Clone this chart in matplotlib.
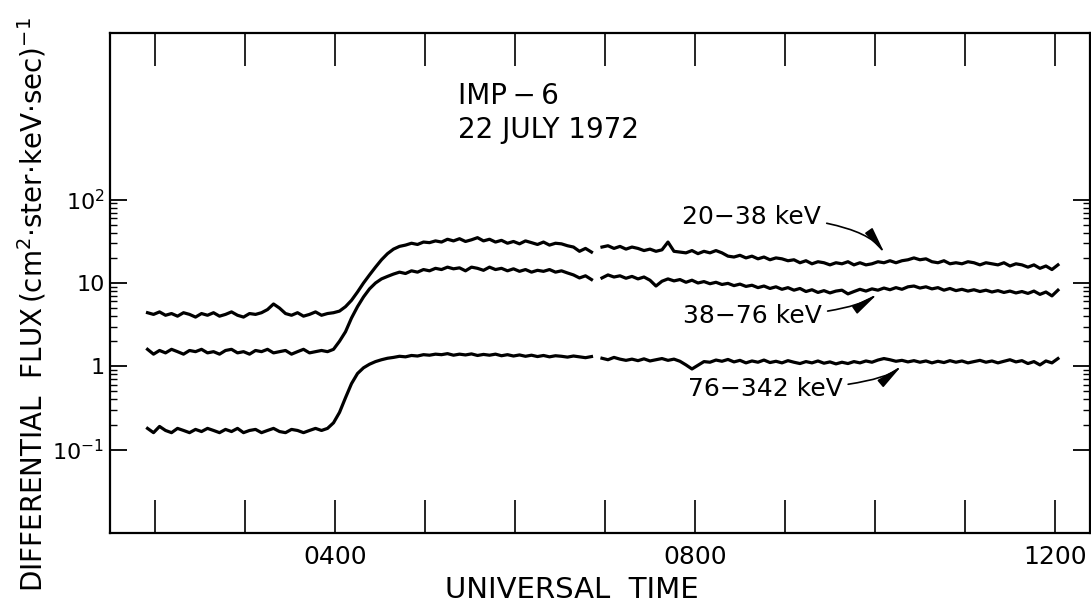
import numpy as np
import matplotlib
matplotlib.use("Agg")
import matplotlib.pyplot as plt

# time grid (hours UT), 4-minute samples, two passes separated by a data gap
step = 4.0 / 60.0
t_start_1 = 1.917
t_start_2 = 6.967

# 20-38 keV channel
flux_20_38_a = [
    4.4, 4.2, 4.5, 4.1, 4.3, 4.0, 4.4, 4.2, 3.9,
    4.3, 4.1, 4.4, 4.0, 4.2, 4.5, 4.1, 3.9, 4.3, 4.2,
    4.4, 4.8, 5.6, 5.0, 4.3, 4.1, 4.4, 4.0, 4.2, 4.5,
    4.1, 4.3, 4.4, 4.6, 5.2, 6.2, 7.8, 10.0, 12.5, 15.5,
    19.0, 22.5, 25.5, 27.5, 28.5, 30.0, 29.0, 31.0, 30.5, 32.0,
    31.0, 33.5, 32.0, 34.0, 31.5, 33.0, 35.0, 32.0, 33.5, 31.0,
    32.5, 30.0, 31.5, 29.5, 32.0, 30.5, 29.0, 31.0, 28.5, 30.0,
    29.5, 28.0, 27.0, 24.0, 26.0, 23.5,
]
flux_20_38_b = [
    27.0, 28.0, 26.0, 27.5, 25.5, 27.0, 26.0, 24.5, 25.5, 24.0,
    25.0, 31.0, 24.0, 23.5, 23.0, 24.5, 22.5, 24.0, 23.0, 24.5,
    23.0, 21.0, 20.5, 21.5, 20.0, 21.0, 19.5, 20.5, 19.0, 20.0,
    19.5, 18.5, 19.0, 17.5, 18.5, 17.0, 18.0, 17.5, 16.5, 17.5,
    17.0, 18.0, 16.5, 17.5, 16.5, 17.0, 18.0, 17.5, 18.5, 17.5,
    18.5, 19.0, 20.0, 19.0, 19.5, 18.0, 17.5, 18.5, 17.0, 17.5,
    17.0, 18.0, 17.5, 16.5, 17.5, 17.0, 16.5, 17.5, 16.0, 17.0,
    16.5, 15.5, 16.5, 15.0, 16.0, 14.5, 16.5,
]

# 38-76 keV channel
flux_38_76_a = [
    1.6, 1.4, 1.55, 1.45, 1.6, 1.5, 1.4, 1.55, 1.5,
    1.6, 1.45, 1.5, 1.4, 1.55, 1.6, 1.45, 1.5, 1.4, 1.55,
    1.5, 1.6, 1.45, 1.5, 1.55, 1.4, 1.5, 1.6, 1.45, 1.5,
    1.55, 1.5, 1.6, 2.0, 2.6, 3.8, 5.2, 6.8, 8.5, 10.0,
    11.2, 12.0, 12.8, 13.5, 13.0, 14.0, 13.5, 14.5, 14.0, 15.0,
    14.5, 15.5, 14.8, 15.2, 14.0, 15.5, 15.0, 14.2, 15.5, 14.5,
    15.0, 14.0, 14.8, 13.8, 14.5, 13.5, 14.2, 13.8, 14.5, 13.5,
    14.0, 13.2, 12.5, 11.5, 12.2, 11.0,
]
flux_38_76_b = [
    11.5, 12.5, 11.8, 12.2, 11.4, 12.0, 11.2, 11.8, 10.8, 9.2,
    10.5, 11.2, 10.6, 11.0, 10.2, 10.8, 10.0, 10.4, 9.8, 10.2,
    9.6, 9.9, 9.3, 9.7, 9.1, 9.4, 8.8, 9.2, 8.6, 9.0,
    8.4, 8.8, 8.2, 8.6, 7.9, 8.3, 7.7, 8.1, 7.6, 8.0,
    8.2, 7.4, 7.9, 8.4, 8.0, 8.5, 8.2, 8.7, 8.3, 8.8,
    8.4, 9.0, 9.2, 8.7, 9.0, 8.5, 8.8, 8.2, 8.6, 8.1,
    8.4, 8.0, 8.3, 7.9, 8.2, 7.8, 8.1, 7.7, 8.0, 7.6,
    7.9, 7.5, 8.0, 7.3, 7.8, 7.0, 8.2,
]

# 76-342 keV channel
flux_76_342_a = [
    0.18, 0.16, 0.19, 0.17, 0.16, 0.18, 0.17, 0.16, 0.175,
    0.165, 0.18, 0.17, 0.16, 0.175, 0.165, 0.18, 0.16, 0.17, 0.175,
    0.16, 0.17, 0.18, 0.165, 0.16, 0.175, 0.17, 0.16, 0.17, 0.18,
    0.17, 0.18, 0.21, 0.28, 0.42, 0.62, 0.82, 0.96, 1.06, 1.14,
    1.2, 1.25, 1.28, 1.32, 1.3, 1.35, 1.33, 1.38, 1.36, 1.4,
    1.38, 1.42, 1.36, 1.4, 1.37, 1.41, 1.35, 1.39, 1.36, 1.4,
    1.34, 1.38, 1.33, 1.37, 1.32, 1.36, 1.31, 1.35, 1.3, 1.34,
    1.32, 1.29, 1.33, 1.3, 1.27, 1.31,
]
flux_76_342_b = [
    1.25, 1.2, 1.28, 1.22, 1.18, 1.22, 1.17, 1.23, 1.16, 1.2,
    1.24, 1.18, 1.22, 1.15, 1.04, 0.93, 1.03, 1.14, 1.12, 1.19,
    1.15, 1.21, 1.13, 1.18, 1.1, 1.16, 1.12, 1.19, 1.11, 1.15,
    1.1, 1.17, 1.12, 1.08, 1.14, 1.1, 1.16, 1.09, 1.13, 1.07,
    1.12, 1.08, 1.14, 1.1, 1.16, 1.12, 1.19, 1.24, 1.2, 1.15,
    1.18, 1.13, 1.17, 1.12, 1.16, 1.1, 1.15, 1.11, 1.17, 1.12,
    1.16, 1.1, 1.14, 1.18, 1.12, 1.16, 1.1, 1.15, 1.2, 1.13,
    1.17, 1.08, 1.14, 1.04, 1.16, 1.1, 1.24,
]

channels = [
    ("20\u221238 keV", flux_20_38_a, flux_20_38_b),
    ("38\u221276 keV", flux_38_76_a, flux_38_76_b),
    ("76\u2212342 keV", flux_76_342_a, flux_76_342_b),
]

# where the channel labels sit and where their arrows land (hours, flux)
label_xy = [(7.86, 62.0), (7.87, 4.0), (7.92, 0.53)]
arrow_xy = [(10.11, 22.5), (10.03, 7.4), (10.30, 1.02)]
arrow_angle = [-55, 35, 40]

hour_ticks = np.arange(2, 13)
hour_labels = {4: "0400", 8: "0800", 12: "1200"}

plt.rcParams["font.family"] = "DejaVu Sans"
plt.rcParams["mathtext.default"] = "regular"

fig = plt.figure(figsize=(10.91, 6.06), dpi=100)
ax = fig.add_axes([110 / 1091, 1 - 533 / 606, 980 / 1091, 500 / 606])

for name, seg_a, seg_b in channels:
    t_a = t_start_1 + step * np.arange(len(seg_a))
    t_b = t_start_2 + step * np.arange(len(seg_b))
    ax.plot(t_a, seg_a, color="black", lw=2.3, solid_joinstyle="round")
    ax.plot(t_b, seg_b, color="black", lw=2.3, solid_joinstyle="round")

ax.set_yscale("log")
ax.set_ylim(1e-2, 1e4)
ax.set_xlim(1.5, 12.39)

# y ticks only over the 0.1 - 100 decades, on both sides
ax.set_yticks([0.1, 1, 10, 100])
ax.set_yticklabels([r"$10^{-1}$", "1", "10", r"$10^{2}$"])
minor = [k * 10.0 ** e for e in (-1, 0, 1) for k in range(2, 10)]
ax.set_yticks(minor, minor=True)
ax.yaxis.set_minor_formatter(matplotlib.ticker.NullFormatter())
ax.tick_params(axis="y", which="major", direction="in", length=12, width=1.3,
               labelsize=16, pad=4, left=True, right=True)
ax.tick_params(axis="y", which="minor", direction="in", length=5, width=1.0,
               left=True, right=True)

ax.set_xticks(hour_ticks)
ax.set_xticklabels([hour_labels.get(int(h), "") for h in hour_ticks])
ax.tick_params(axis="x", which="major", direction="in", length=24, width=1.2,
               labelsize=18, pad=9, top=True, bottom=True)

for s in ax.spines.values():
    s.set_linewidth(1.6)

fig.text(572 / 1091, 1 - 590 / 606, "UNIVERSAL  TIME", fontsize=21,
         ha="center", va="center")
fig.text(32 / 1091, 1 - 305 / 606,
         r"DIFFERENTIAL  FLUX$\,$(cm$^2$$\cdot$ster$\cdot$keV$\cdot$sec)$^{-1}$",
         fontsize=20, rotation=90, ha="center", va="center")

ax.text(5.37, 1.1e3, "IMP\u2009\u2212\u20096\n22 JULY 1972", fontsize=20,
        va="center", ha="left", linespacing=1.3)

for (name, _, _), txt, tip, ang in zip(channels, label_xy, arrow_xy, arrow_angle):
    ax.annotate(name, xy=tip, xytext=txt, fontsize=18, va="center", ha="left",
                arrowprops=dict(arrowstyle="-|>,head_length=0.9,head_width=0.15",
                                color="black", lw=1.2, shrinkA=2, shrinkB=0,
                                connectionstyle=f"angle3,angleA=0,angleB={ang}"))

fig.savefig("out.png", dpi=100)
